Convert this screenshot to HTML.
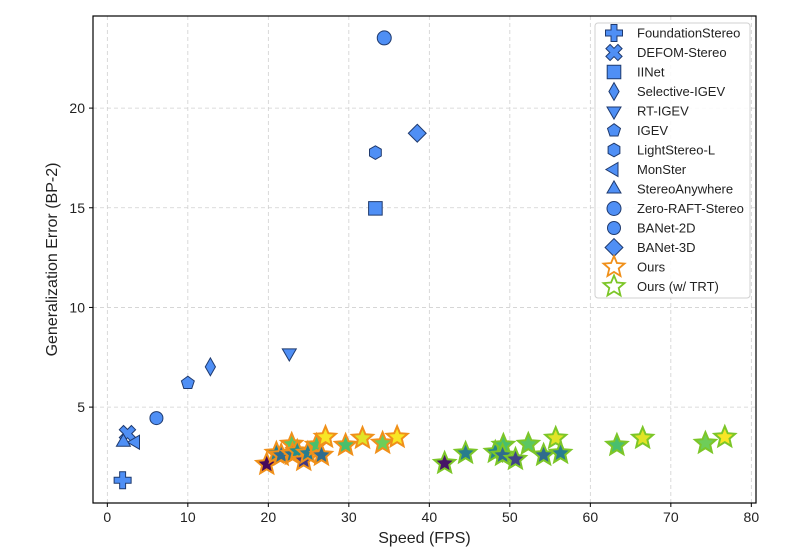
<!DOCTYPE html>
<html><head><meta charset="utf-8">
<style>
html,body{margin:0;padding:0;background:#fff;}
svg{display:block;font-family:"Liberation Sans",sans-serif;}
</style></head>
<body>
<svg id="chart" width="810" height="551" viewBox="0 0 810 551" xmlns="http://www.w3.org/2000/svg">
<g id="grid"></g>
<g id="axes"></g>
<g id="marks"></g>
<g id="legend"></g>
</svg>
<script>
const baseNames = ["FoundationStereo","DEFOM-Stereo","IINet","Selective-IGEV","RT-IGEV","IGEV","LightStereo-L","MonSter","StereoAnywhere","Zero-RAFT-Stereo","BANet-2D","BANet-3D"];
const baseShapes = ["plus","xcross","square","diamond","tridown","pentagon","hexagon","trileft","triup","circle","circle","bigdiamond"];
const baseFps = [1.9,2.5,33.3,12.8,22.6,10.0,33.3,3.5,2.0,34.4,6.1,38.5];
const baseErr = [1.33,3.67,14.97,7.02,7.72,6.21,17.77,3.24,3.24,23.52,4.45,18.74];
const oursFps = [19.8,21.0,21.6,22.9,23.0,23.6,24.4,24.9,26.0,26.6,27.1,29.6,31.7,34.2,36.0];
const oursErr = [2.13,2.69,2.59,3.14,2.64,2.79,2.33,2.69,3.09,2.59,3.49,3.09,3.44,3.19,3.49];
const trtFps = [41.9,44.5,48.2,49.2,49.1,50.7,52.3,54.2,55.7,56.3,63.3,66.5,74.3,76.7];
const trtErr = [2.18,2.69,2.74,3.09,2.59,2.38,3.14,2.59,3.44,2.69,3.09,3.44,3.19,3.49];
const xTicks = [0,10,20,30,40,50,60,70,80];
const yTicks = [5,10,15,20];

const L=93,R=756,T=16,B=503;
const xMin=-1.78,xMax=80.58,yMin=0.19,yMax=24.62;
const sx=v=>L+(v-xMin)/(xMax-xMin)*(R-L);
const sy=v=>B-(v-yMin)/(yMax-yMin)*(B-T);
const NS="http://www.w3.org/2000/svg";
function mk(tag,attrs,parent){const e=document.createElementNS(NS,tag);for(const k in attrs)e.setAttribute(k,attrs[k]);parent.appendChild(e);return e;}
const grid=document.getElementById('grid'),axes=document.getElementById('axes'),marks=document.getElementById('marks'),legend=document.getElementById('legend');

xTicks.forEach(t=>{
  const g=mk('line',{x1:sx(t),x2:sx(t),y1:T,y2:B,stroke:'#d0d0d0','stroke-dasharray':'4,3','stroke-width':0.8},grid);
  
  
  const tk=mk('line',{x1:sx(t),x2:sx(t),y1:B,y2:B+4,stroke:'#000'},axes);
  
  
  const tx=mk('text',{x:sx(t),y:B+19,'text-anchor':'middle','font-size':14,fill:'#222'},axes);
  tx.textContent=t;
  
  
});
yTicks.forEach(t=>{
  const g=mk('line',{x1:L,x2:R,y1:sy(t),y2:sy(t),stroke:'#d0d0d0','stroke-dasharray':'4,3','stroke-width':0.8},grid);
  
  
  const tk=mk('line',{x1:L-4,x2:L,y1:sy(t),y2:sy(t),stroke:'#000'},axes);
  
  
  const tx=mk('text',{x:L-8,y:sy(t)+5,'text-anchor':'end','font-size':14,fill:'#222'},axes);
  tx.textContent=t;
  
  
});
const frame=mk('rect',{x:L,y:T,width:R-L,height:B-T,fill:'none',stroke:'#000','stroke-width':1.2},axes);


const xl=mk('text',{x:(L+R)/2,y:543,'text-anchor':'middle','font-size':16,fill:'#222'},axes);
xl.textContent='Speed (FPS)';


const yl=mk('text',{x:0,y:0,'text-anchor':'middle','font-size':16,fill:'#222',transform:`translate(57,${(T+B)/2}) rotate(-90)`},axes);
yl.textContent='Generalization Error (BP-2)';



function shapePath(s,cx,cy,r){
  const pts=(n,rot,rad)=>{let a=[];for(let i=0;i<n;i++){const t=rot+i*2*Math.PI/n;a.push((cx+rad*Math.cos(t)).toFixed(1)+','+(cy+rad*Math.sin(t)).toFixed(1));}return 'M'+a.join('L')+'Z';};
  switch(s){
    case 'plus':{const a=r*0.35;return `M${cx-a},${cy-r}H${cx+a}V${cy-a}H${cx+r}V${cy+a}H${cx+a}V${cy+r}H${cx-a}V${cy+a}H${cx-r}V${cy-a}H${cx-a}Z`;}
    case 'xcross':{const a=r*0.35;let p=[];const base=[[-a,-r],[a,-r],[a,-a],[r,-a],[r,a],[a,a],[a,r],[-a,r],[-a,a],[-r,a],[-r,-a],[-a,-a]];const c=Math.cos(Math.PI/4),sn=Math.sin(Math.PI/4);base.forEach(([x,y])=>p.push((cx+x*c-y*sn).toFixed(1)+','+(cy+x*sn+y*c).toFixed(1)));return 'M'+p.join('L')+'Z';}
    case 'square':return `M${cx-r*0.8},${cy-r*0.8}h${r*1.6}v${r*1.6}h${-r*1.6}Z`;
    case 'diamond':return `M${cx},${cy-r*1.05}L${cx+r*0.6},${cy}L${cx},${cy+r*1.05}L${cx-r*0.6},${cy}Z`;
    case 'bigdiamond':return `M${cx},${cy-r*1.05}L${cx+r*1.05},${cy}L${cx},${cy+r*1.05}L${cx-r*1.05},${cy}Z`;
    case 'tridown':return pts(3,Math.PI/2,r*0.95);
    case 'triup':return pts(3,-Math.PI/2,r*0.95);
    case 'trileft':return pts(3,Math.PI,r*0.95);
    case 'pentagon':return pts(5,-Math.PI/2,r*0.8);
    case 'hexagon':return pts(6,-Math.PI/2,r*0.8);
    case 'star':{let a=[];for(let i=0;i<10;i++){const t=-Math.PI/2+i*Math.PI/5;const rr=i%2?r*0.45:r;a.push((cx+rr*Math.cos(t)).toFixed(1)+','+(cy+rr*Math.sin(t)).toFixed(1));}return 'M'+a.join('L')+'Z';}
  }
  return '';
}
function drawShape(s,cx,cy,r,fill,stroke,sw,parent,cr){
  if(s==='circle') return mk('circle',{cx,cy,r:cr||r*0.75,fill,stroke,'stroke-width':sw},parent);
  return mk('path',{d:shapePath(s,cx,cy,r),fill,stroke,'stroke-width':sw,'stroke-linejoin':'miter'},parent);
}
const vir=[[68,1,84],[72,40,120],[62,74,137],[49,104,142],[38,130,142],[31,158,137],[53,183,121],[109,205,89],[180,222,44],[253,231,37]];
function viridis(t){t=Math.max(0,Math.min(1,t));const f=t*(vir.length-1);const i=Math.min(vir.length-2,Math.floor(f));const u=f-i;const c=vir[i].map((v,k)=>Math.round(v+(vir[i+1][k]-v)*u));return `rgb(${c[0]},${c[1]},${c[2]})`;}
const eMin=2.1,eMax=3.5;
const circR=[0,0,0,0,0,0,0,0,0,7,6.5,0];

baseFps.forEach((f,i)=>{
  const el=drawShape(baseShapes[i],sx(f),sy(baseErr[i]),8.5,'#4f8ff5','#1f3a6e',1,marks,circR[i]);
  
  
});
oursFps.forEach((f,i)=>{
  const el=drawShape('star',sx(f),sy(oursErr[i]),11,viridis((oursErr[i]-eMin)/(eMax-eMin)),'#f0901a',2,marks);
  
  
});
trtFps.forEach((f,i)=>{
  const el=drawShape('star',sx(f),sy(trtErr[i]),11,viridis((trtErr[i]-eMin)/(eMax-eMin)),'#7cc628',2,marks);
  
  
});

const lb=mk('rect',{x:595,y:23,width:155,height:275,rx:3,fill:'#fff','fill-opacity':0.85,stroke:'#d0d0d0'},legend);


const legNames=baseNames.concat(['Ours','Ours (w/ TRT)']);
legNames.forEach((n,i)=>{
  const y=33+i*19.5;
  let m;
  if(i<12) m=drawShape(baseShapes[i],614,y,8.5,'#4f8ff5','#1f3a6e',1,legend,circR[i]);
  else m=drawShape('star',614,y,11,'#fff',i===12?'#f0901a':'#7cc628',1.8,legend);
  
  
  const t=mk('text',{x:637,y:y+4.5,'font-size':13,fill:'#222'},legend);
  t.textContent=n;
  
  
});
</script>
</body></html>
